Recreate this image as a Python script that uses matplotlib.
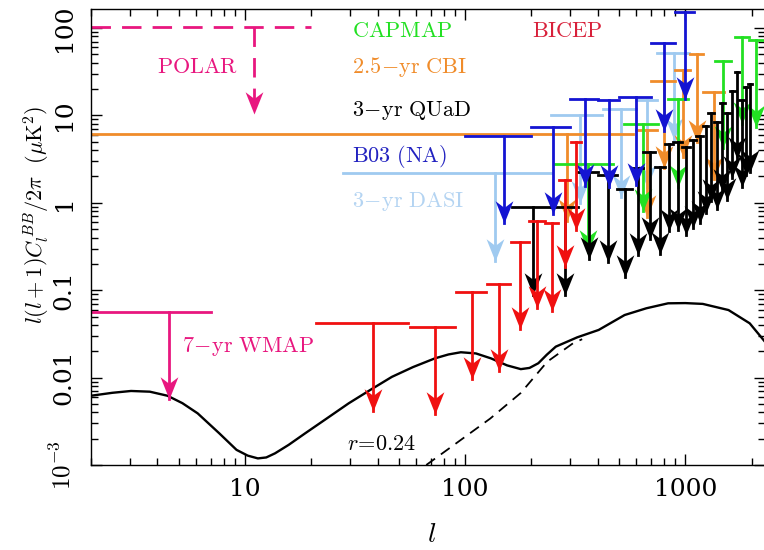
import numpy as np
import matplotlib; matplotlib.use("Agg")
import matplotlib.pyplot as plt
from matplotlib.path import Path

plt.rcParams["mathtext.fontset"] = "cm"
plt.rcParams["font.family"] = "serif"

# theory BB spectrum (solid) and the r=0.24 curve (dashed)
theory_l = [2, 2.5, 3.04, 3.7, 4.45, 5.2, 6.1, 7.64, 9.16, 10.3, 11.45, 12.5, 13.7, 15.8,
            18.8, 23.5, 29.6, 37, 46.5, 58, 72.9, 84, 95.6, 112, 131, 155, 179, 196, 215,
            235, 258, 323, 404, 530, 665, 835, 1000, 1200, 1570, 1960, 2330]
theory_c = [0.0062, 0.0067, 0.00703, 0.0069, 0.0062, 0.0051, 0.0039, 0.00231, 0.00149,
            0.00128, 0.00119, 0.00122, 0.00136, 0.0017, 0.00231, 0.0034, 0.00508, 0.0072,
            0.0102, 0.0132, 0.0166, 0.0184, 0.0195, 0.0189, 0.0166, 0.0138, 0.0125, 0.0129,
            0.0146, 0.0183, 0.0226, 0.0289, 0.0351, 0.052, 0.0621, 0.0708, 0.0712, 0.0697,
            0.0593, 0.0418, 0.0247]
tens_l = [66.6, 91.3, 130, 179, 236, 309, 340]
tens_c = [0.001, 0.00178, 0.0034, 0.00668, 0.0152, 0.0247, 0.0275]

# upper limits: bin edges (lo, hi) and limit value
polar_lo, polar_hi, polar_v = [2], [20], [103]
wmap_lo, wmap_hi, wmap_v = [2], [7], [0.0567]
dasi_lo = [28, 246, 421, 597, 740]
dasi_hi = [245, 420, 596, 740, 1040]
dasi_v = [2.17, 10.0, 11.7, 15.0, 52.0]
cbi_lo = [2, 600, 700, 900, 1050, 1200]
cbi_hi = [580, 740, 900, 1050, 1200, 1500]
cbi_v = [6.2, 6.8, 25.0, 33.0, 50.0, 18.7]
capmap_lo = [256, 525, 830, 1370, 1680, 1940]
capmap_hi = [470, 755, 1030, 1610, 1940, 2260]
capmap_v = [2.75, 8.0, 15.3, 41.9, 79.6, 73.0]
b03_lo = [100, 200, 300, 400, 500, 700, 900]
b03_hi = [200, 300, 400, 500, 700, 900, 1100]
b03_v = [5.8, 7.4, 15.5, 15.0, 16.1, 66.8, 154.0]
bicep_lo = [21, 56, 91, 126, 161, 196, 231, 266, 301]
bicep_hi = [55, 90, 125, 160, 195, 230, 265, 300, 335]
bicep_v = [0.042, 0.038, 0.096, 0.118, 0.36, 0.62, 0.58, 1.82, 4.9]
quad_lo = [163, 245, 326, 403, 490, 575, 645, 730, 810, 880, 970, 1050, 1120, 1200, 1270,
           1350, 1430, 1510, 1590, 1680, 1760, 1840, 1920]
quad_hi = [245, 326, 403, 490, 575, 645, 730, 810, 880, 970, 1050, 1120, 1200, 1270, 1350,
           1430, 1510, 1590, 1680, 1760, 1840, 1920, 2000]
quad_v = [0.89, 0.89, 2.27, 2.1, 1.43, 2.5, 3.85, 2.58, 4.7, 4.9, 4.3, 5.2, 5.8, 7.6, 10.6,
          8.5, 13.7, 10.7, 19.2, 31.6, 15.0, 21.0, 22.8]

xticks = [10, 100, 1000]
xtick_labels = ["10", "100", "1000"]
yticks = [1e-3, 1e-2, 0.1, 1, 10, 100]
ytick_labels = [r"$10^{-3}$", "0.01", "0.1", "1", "10", "100"]

PINK = "#e8177f"
# notched arrowhead, tip at the origin, pointing down
head = Path([(0, 0), (-0.4, 1.0), (0, 0.7), (0.4, 1.0), (0, 0)],
            [Path.MOVETO, Path.LINETO, Path.LINETO, Path.LINETO, Path.CLOSEPOLY])

fig = plt.figure(figsize=(7.64, 5.5), dpi=100)
ax = fig.add_axes([91 / 764, 85 / 550, 674 / 764, 456 / 550])


def limits(lo, hi, v, color, dashed=False):
    kw = dict(color=color, lw=2.0)
    if dashed:
        kw["dashes"] = (7, 4)
    for a, b, c in zip(lo, hi, v):
        mid = 0.5 * (a + b)
        ax.plot([a, b], [c, c], **kw)
        ax.plot([mid, mid], [c, c / 10], **kw)
        ax.plot(mid, c / 10, marker=head, ms=32, color=color, mew=0, ls="none")


ax.plot(theory_l, theory_c, color="black", lw=1.7)
ax.plot(tens_l, tens_c, color="black", lw=1.3, dashes=(6, 4))

limits(polar_lo, polar_hi, polar_v, PINK, dashed=True)
limits(wmap_lo, wmap_hi, wmap_v, PINK)
limits(dasi_lo, dasi_hi, dasi_v, "#9fcaf0")
limits(cbi_lo, cbi_hi, cbi_v, "#f08c2a")
limits(capmap_lo, capmap_hi, capmap_v, "#22e022")
limits(quad_lo, quad_hi, quad_v, "black")
limits(b03_lo, b03_hi, b03_v, "#1414d2")
limits(bicep_lo, bicep_hi, bicep_v, "#f01010")

ax.set_xscale("log")
ax.set_yscale("log")
ax.set_xlim(2, 2300)
ax.set_ylim(1e-3, 165)
ax.set_xticks(xticks, labels=xtick_labels)
ax.set_yticks(yticks, labels=ytick_labels)
for t in ax.get_yticklabels():
    t.set_rotation(90)
    t.set_va("center")
ax.tick_params(which="both", direction="in", top=True, right=True, width=1.0)
ax.tick_params(which="major", length=8)
ax.tick_params(which="minor", length=5)
ax.tick_params(axis="x", labelsize=18, pad=9)
ax.tick_params(axis="y", labelsize=18, pad=11)
for s in ax.spines.values():
    s.set_linewidth(1.0)

fs = 16
ax.text(30.7, 78.9, r"$\mathrm{CAPMAP}$", color="#22e022", fontsize=fs)
ax.text(202, 78.9, r"$\mathrm{BICEP}$", color="#d8203a", fontsize=fs)
ax.text(30.7, 30.6, r"$\mathrm{2.5\!-\!yr\ CBI}$", color="#f08c2a", fontsize=fs)
ax.text(30.7, 9.84, r"$\mathrm{3\!-\!yr\ QUaD}$", color="black", fontsize=fs)
ax.text(30.7, 2.95, r"$\mathrm{B03\ (NA)}$", color="#2222c0", fontsize=fs)
ax.text(30.7, 0.90, r"$\mathrm{3\!-\!yr\ DASI}$", color="#b4d4f2", fontsize=fs)
ax.text(3.98, 30.3, r"$\mathrm{POLAR}$", color=PINK, fontsize=fs)
ax.text(5.17, 0.0198, r"$\mathrm{7\!-\!yr\ WMAP}$", color=PINK, fontsize=fs)
ax.text(29.0, 0.0015, r"$r\!=\!0.24$", color="black", fontsize=fs)

fig.text(37 / 764, (550 - 215) / 550, r"$l(l+1)C_l^{\,BB}/2\pi\ \ (\mu\mathrm{K}^2)$",
         rotation=90, ha="center", va="center", fontsize=16)
fig.text(432 / 764, (550 - 534) / 550, r"$l$", ha="center", va="center", fontsize=20)

fig.savefig("out.png", dpi=100)
